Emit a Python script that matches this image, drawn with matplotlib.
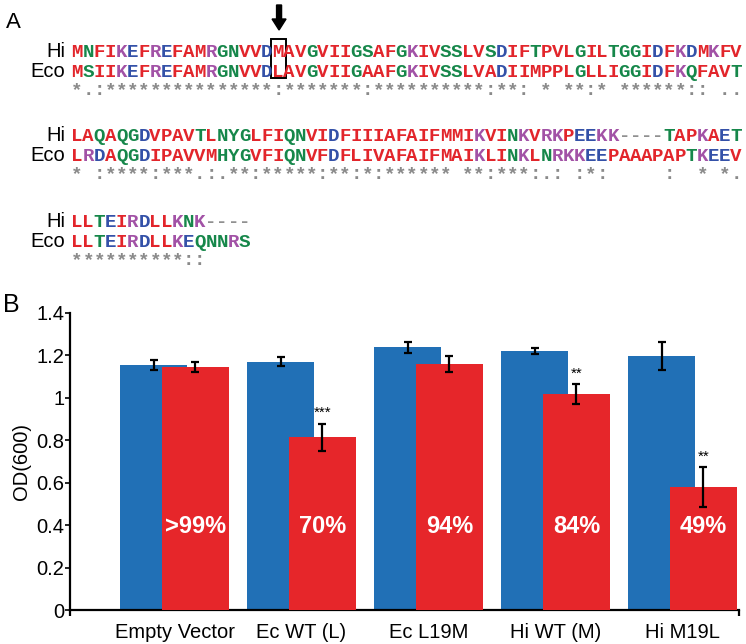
import matplotlib
matplotlib.use("Agg")
import matplotlib.pyplot as plt
from matplotlib.patches import Rectangle, FancyArrow

# ---- panel A: alignment ----
hi_rows = ["MNFIKEFREFAMRGNVVDMAVGVIIGSAFGKIVSSLVSDIFTPVLGILTGGIDFKDMKFV",
           "LAQAQGDVPAVTLNYGLFIQNVIDFIIIAFAIFMMIKVINKVRKPEEKK----TAPKAET",
           "LLTEIRDLLKNK----"]
eco_rows = ["MSIIKEFREFAMRGNVVDLAVGVIIGAAFGKIVSSLVADIIMPPLGLLIGGIDFKQFAVT",
            "LRDAQGDIPAVVMHYGVFIQNVFDFLIVAFAIFMAIKLINKLNRKKEEPAAAPAPTKEEV",
            "LLTEIRDLLKEQNNRS"]
cons_rows = ["*.:***************:*******:**********:**: * **:* ******:: ..",
             "* :****:***.:.**:*****:**:*:****** **:***:.: :*:     :  * *.",
             "**********::    "]
marked_col = 19

# ---- panel B: growth ----
strains = ["Empty Vector", "Ec WT (L)", "Ec L19M", "Hi WT (M)", "Hi M19L"]
od_blue = [1.155, 1.171, 1.238, 1.221, 1.198]
err_blue = [0.023, 0.020, 0.025, 0.016, 0.065]
od_red = [1.146, 0.814, 1.160, 1.018, 0.580]
err_red = [0.024, 0.065, 0.037, 0.047, 0.094]
pct = [">99%", "70%", "94%", "84%", "49%"]
stars = ["", "***", "", "**", "**"]

RED = "#E6262A"
BLUE = "#2170B6"
AA_RED, AA_BLUE, AA_MAG, AA_GRN = "#E2252B", "#3451A8", "#A252A6", "#16874A"


def aa_color(c):
    if c in "AVFPMILW":
        return AA_RED
    if c in "DE":
        return AA_BLUE
    if c in "RK":
        return AA_MAG
    if c in "STYHCNGQ":
        return AA_GRN
    return "#909090"


plt.rcParams['font.family'] = ['Liberation Sans', 'DejaVu Sans']
W, H = 746, 644
fig = plt.figure(figsize=(W / 100, H / 100), dpi=100)

# overlay in pixel coordinates for the alignment
ov = fig.add_axes([0, 0, 1, 1])
ov.set_xlim(0, W)
ov.set_ylim(H, 0)
ov.axis("off")

x0, dx = 77, 11.17
row_base = [57, 141, 227]   # baseline of the "Hi" row of each block
mono = dict(family="Liberation Mono", fontweight="bold", fontsize=13.8)

for b in range(3):
    yb = row_base[b]
    ov.text(65, yb, "Hi", ha="right", va="baseline", fontsize=14.5)
    ov.text(65, yb + 20, "Eco", ha="right", va="baseline", fontsize=14.5)
    for i, c in enumerate(hi_rows[b]):
        ov.text(x0 + i * dx, yb, c, ha="center", va="baseline", color=aa_color(c), **mono)
    for i, c in enumerate(eco_rows[b]):
        ov.text(x0 + i * dx, yb + 20, c, ha="center", va="baseline", color=aa_color(c), **mono)
    for i, c in enumerate(cons_rows[b]):
        if c != " ":
            ov.text(x0 + i * dx, yb + 38, c, ha="center", va="baseline", color="#8a8a8a", **mono)

xc = x0 + (marked_col - 1) * dx
ov.add_patch(Rectangle((xc - 7, 39), 14.5, 39, fill=False, ec="black", lw=1.4))
ov.add_patch(FancyArrow(xc + 1, 5, 0, 25, width=5, head_width=14, head_length=11,
                        length_includes_head=True, color="black"))
ov.text(6, 28, "A", fontsize=16, va="baseline")
ov.text(3, 312, "B", fontsize=18, va="baseline")

# ---- bar chart ----
ax = fig.add_axes([70 / W, 1 - 610 / H, (739 - 70) / W, (610 - 313) / H])
xs = list(range(len(strains)))
off, bw = 0.165, 0.528
ekw = dict(ecolor="black", elinewidth=1.6, capsize=2.6, capthick=1.6)
ax.bar([x - off for x in xs], od_blue, bw, color=BLUE, yerr=err_blue, error_kw=ekw, zorder=2)
ax.bar([x + off for x in xs], od_red, bw, color=RED, yerr=err_red, error_kw=ekw, zorder=3)

for i in xs:
    ax.text(i + off, 0.363, pct[i], ha="center", va="baseline", color="white",
            fontsize=17, fontweight="bold", zorder=4)
    if stars[i]:
        ax.text(i + off, od_red[i] + err_red[i] + 0.05, stars[i], ha="center",
                va="center", fontsize=11, zorder=4)

ax.set_xlim(-0.823, 4.445)
ax.set_ylim(0, 1.4)
ax.set_yticks([0, 0.2, 0.4, 0.6, 0.8, 1.0, 1.2, 1.4])
ax.set_yticklabels(["0", "0.2", "0.4", "0.6", "0.8", "1", "1.2", "1.4"])
ax.set_xticks(xs)
ax.set_xticklabels(strains)
ax.set_xticks([-0.823, 4.445], minor=True)
ax.tick_params(axis="x", which="major", length=0, pad=9, labelsize=14.5)
ax.tick_params(axis="x", which="minor", length=4, width=1.6, direction="out")
ax.tick_params(axis="y", length=3.5, width=1.2, direction="out", pad=0.5, labelsize=14.5)
ax.set_ylabel("OD(600)", fontsize=14.5, labelpad=4)
for s in ["top", "right"]:
    ax.spines[s].set_visible(False)
for s in ["left", "bottom"]:
    ax.spines[s].set_linewidth(1.6)
ax.patch.set_alpha(0)

fig.savefig("out.png", dpi=100)
